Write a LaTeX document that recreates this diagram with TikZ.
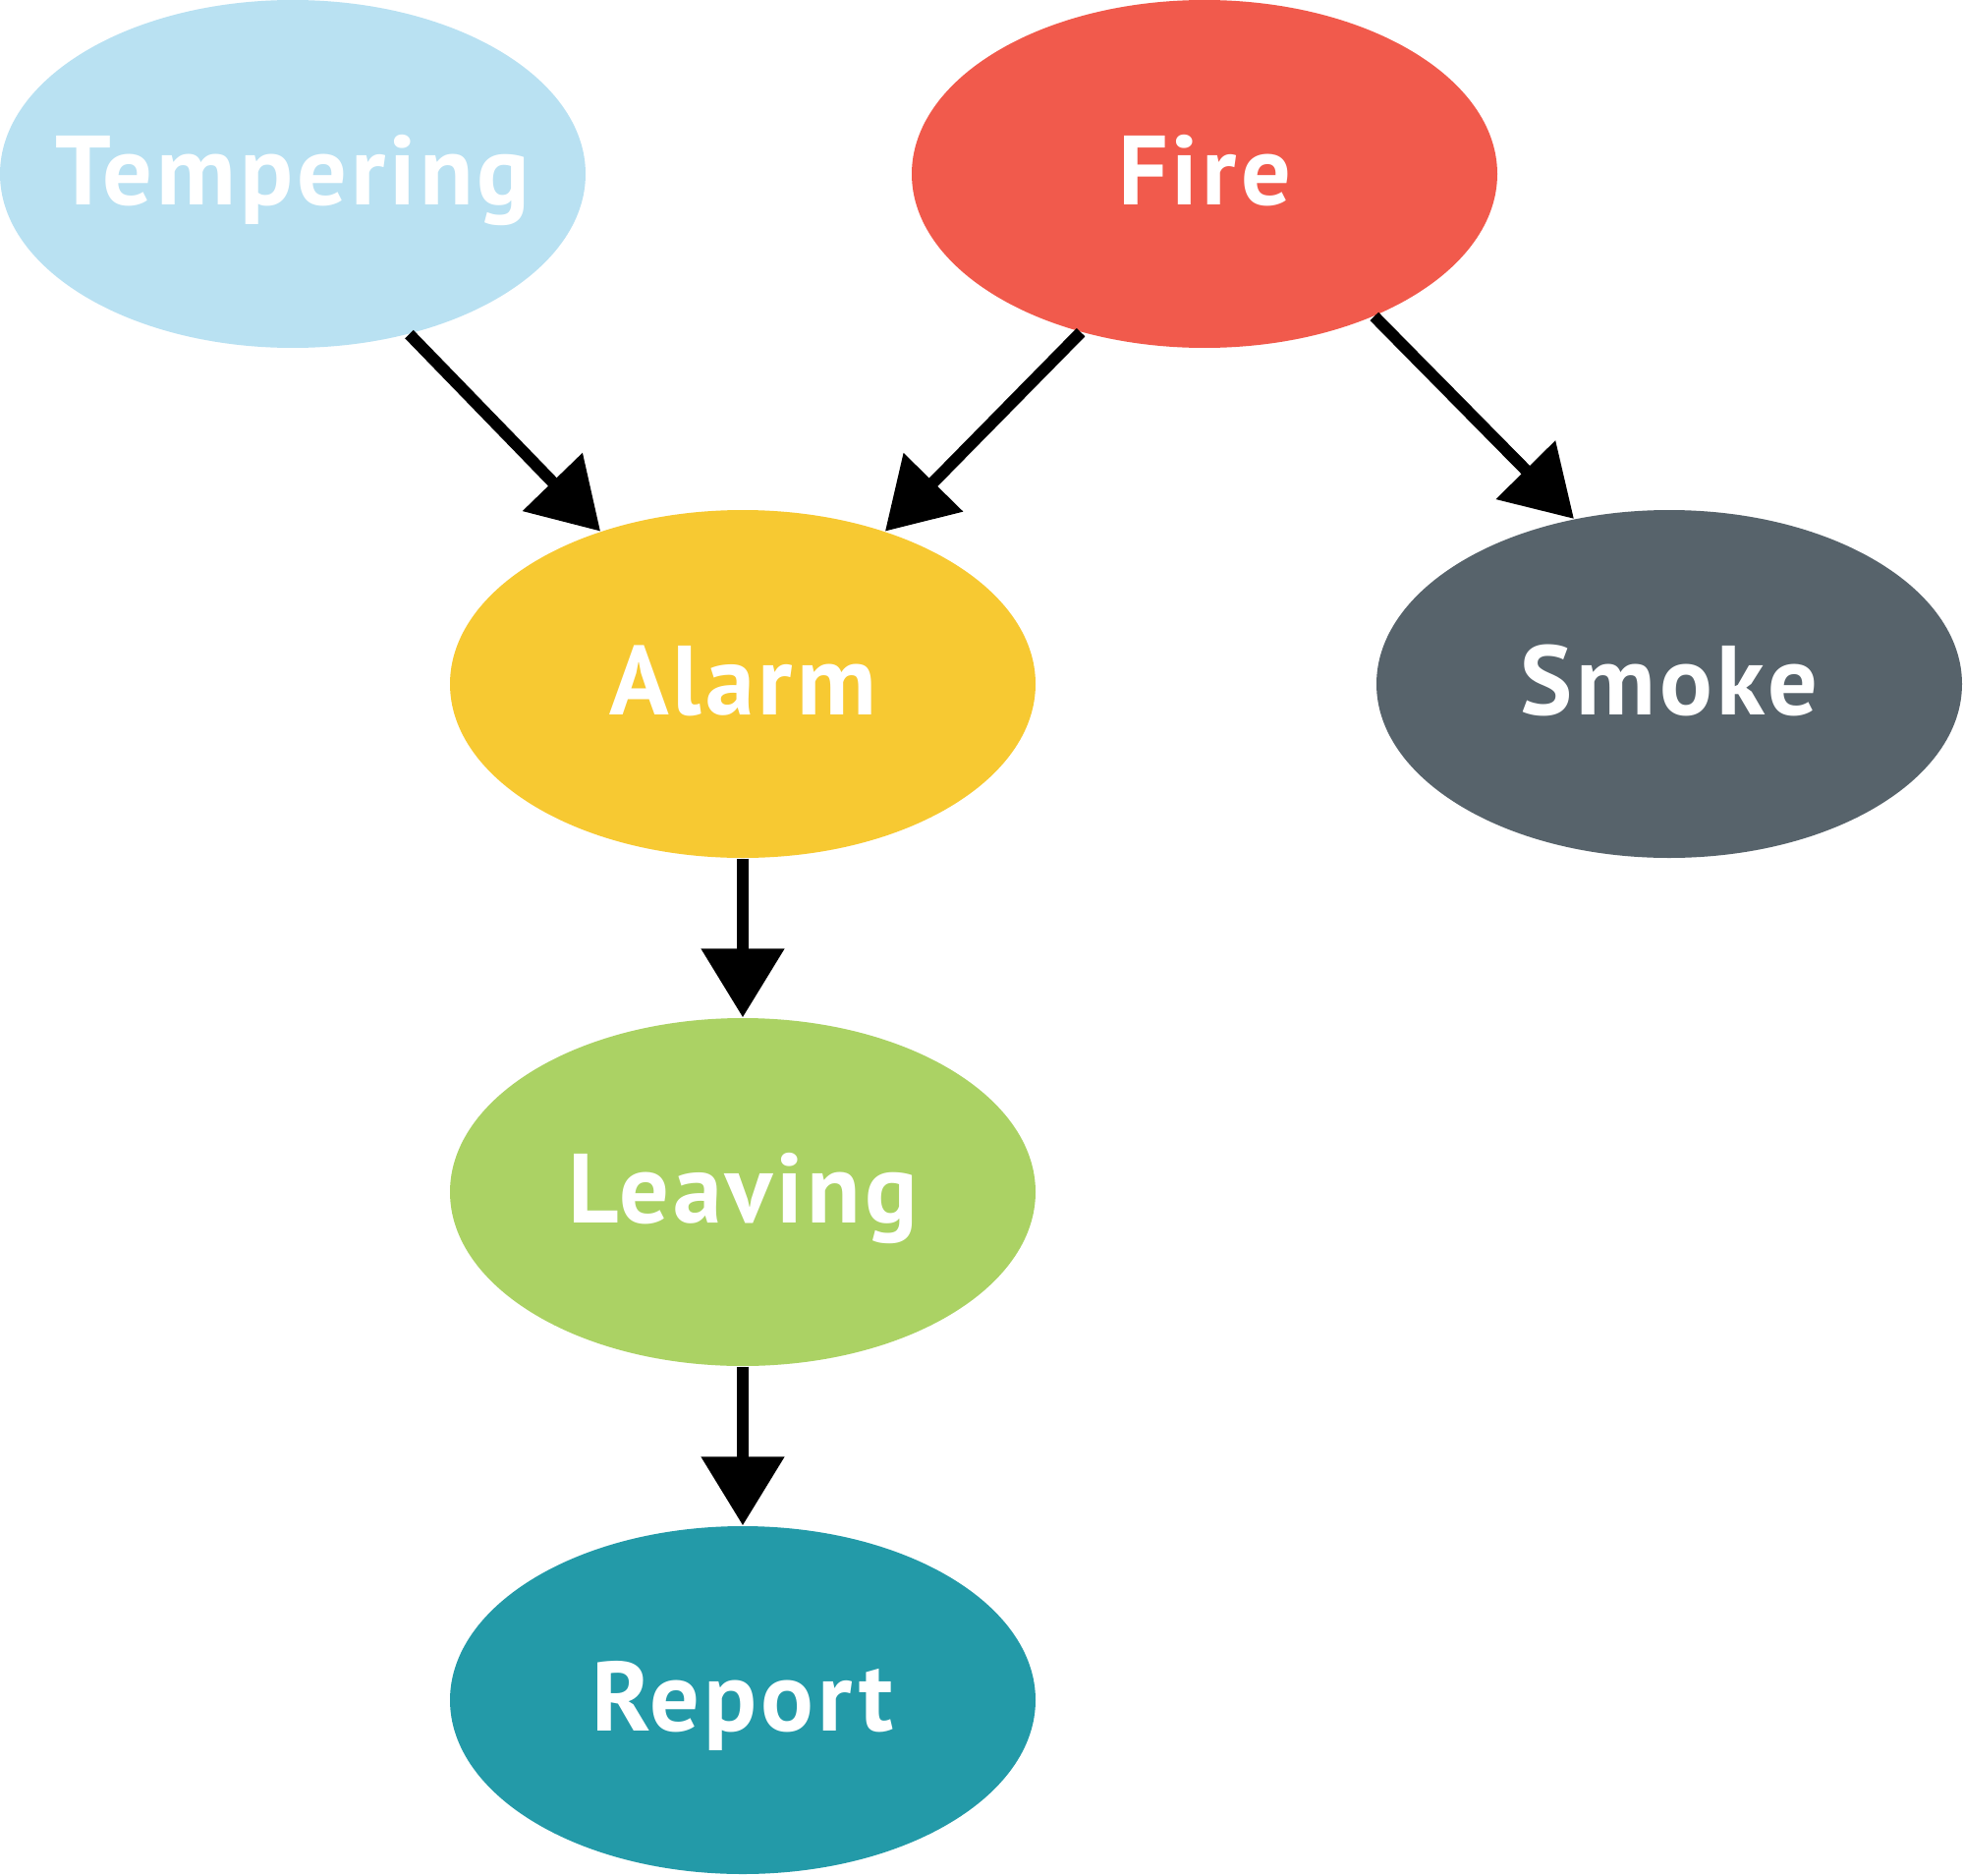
\documentclass[tikz,border=0pt]{standalone}
\usepackage{fontspec}
\setmainfont[LetterSpace=4]{PT Sans}
\usetikzlibrary{shapes.geometric,arrows.meta}
\definecolor{tempcol}{HTML}{B9E1F2}
\definecolor{firecol}{HTML}{F15A4C}
\definecolor{alarmcol}{HTML}{F7C932}
\definecolor{smokecol}{HTML}{57636B}
\definecolor{leavecol}{HTML}{ABD264}
\definecolor{reportcol}{HTML}{239AA8}
\begin{document}
\begin{tikzpicture}[x=0.1mm,y=-0.1mm,
    ev/.style={ellipse,minimum width=59.6mm,minimum height=35.4mm,inner xsep=-12mm,inner ysep=0pt,
      text=white,font=\bfseries\fontsize{28.5}{30}\selectfont,text height=6.3mm,text depth=0pt},
    link/.style={-{Triangle[length=7mm,width=8.2mm]},line width=1.2mm}]
    \useasboundingbox (0,0) rectangle (1998,1909);
    \node[ev,fill=tempcol](temp) at (298,177) {Tempering};
    \node[ev,fill=firecol](fire) at (1226,177) {Fire};
    \node[ev,fill=alarmcol](alarm) at (756,696) {Alarm};
    \node[ev,fill=smokecol](smoke) at (1699,696) {Smoke};
    \node[ev,fill=leavecol](leave) at (756,1213) {Leaving};
    \node[ev,fill=reportcol](report) at (756,1730) {Report};
    \draw [link] (temp.-54) -- (alarm.133) ;
    \draw [link] (fire.-128) -- (alarm.47) ;
    \draw [link] (fire.-40) -- (smoke.120) ;
    \draw [link] (alarm.south) -- (leave.north) ;
    \draw [link] (leave.south) -- (report.north) ;
\end{tikzpicture}
\end{document}
